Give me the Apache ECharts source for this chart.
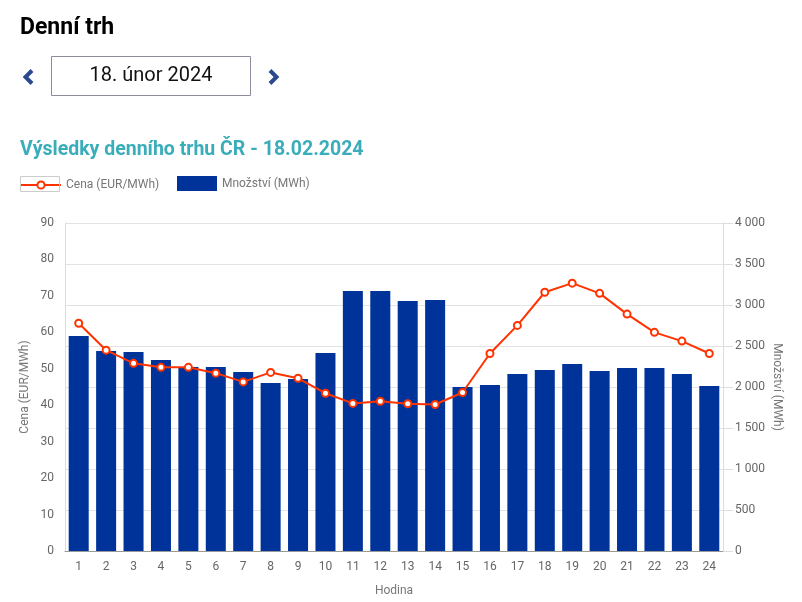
<!DOCTYPE html>
<html>
<head>
<meta charset="utf-8">
<script src="https://cdn.jsdelivr.net/npm/echarts@6/dist/echarts.min.js"></script>
<style>
html,body{margin:0;padding:0;background:#fff;}
#c{width:802px;height:602px;}
</style>
</head>
<body>
<div id="c"></div>
<script>
var hours = ['1','2','3','4','5','6','7','8','9','10','11','12','13','14','15','16','17','18','19','20','21','22','23','24'];
var price = [62.5,55.1,51.5,50.4,50.4,48.8,46.4,49.0,47.4,43.3,40.5,41.1,40.4,40.2,43.5,54.2,61.9,71.0,73.5,70.7,65.0,60.0,57.6,54.2];
var volume = [2622,2439,2427,2329,2244,2244,2183,2049,2098,2415,3171,3171,3049,3061,2000,2024,2159,2207,2280,2195,2232,2232,2159,2012];
var leftTicks = {min:0, max:90, interval:10};
var rightTicks = {min:0, max:4000, interval:500};

var FONT = 'Roboto, "Noto Sans", sans-serif';
var chart = echarts.init(document.getElementById('c'), null, {renderer:'canvas'});
function fmtThousands(v){ return String(v).replace(/\B(?=(\d{3})+(?!\d))/g, ' '); }

chart.setOption({
  animation:false,
  textStyle:{fontFamily:FONT},
  title:[
    {text:'Denní trh', left:15, top:12, textStyle:{fontFamily:FONT, fontSize:23, fontWeight:'bold', color:'#000'}},
    {text:'Výsledky denního trhu ČR - 18.02.2024', left:15, top:135, textStyle:{fontFamily:FONT, fontSize:19.5, fontWeight:'bold', color:'#3aadba'}}
  ],
  graphic:[
    {type:'rect', shape:{x:51.5, y:56.5, width:199, height:39}, style:{fill:'#fff', stroke:'#8c8c9c', lineWidth:1}},
    {type:'text', x:151, y:76, style:{text:'18. únor 2024', font:'20px '+FONT, fill:'#111', textAlign:'center', textVerticalAlign:'middle'}},
    {type:'polyline', shape:{points:[[32,70.5],[25.5,77],[32,83.5]]}, style:{stroke:'#2b4a8e', lineWidth:4, fill:null}},
    {type:'polyline', shape:{points:[[270,70.5],[276.5,77],[270,83.5]]}, style:{stroke:'#2b4a8e', lineWidth:4, fill:null}},
    {type:'rect', shape:{x:20.5, y:176.5, width:39, height:15}, style:{fill:null, stroke:'#cccccc', lineWidth:1}, z:100}
  ],
  legend:[
    {left:15, top:174, itemWidth:40, itemHeight:9, padding:5,
     textStyle:{fontFamily:FONT, fontSize:12, color:'#777'},
     data:[{name:'Cena (EUR/MWh)'}]},
    {left:172, top:171, itemWidth:40, itemHeight:15, padding:5,
     textStyle:{fontFamily:FONT, fontSize:12, color:'#777'},
     data:[{name:'Množství (MWh)', icon:'rect'}]}
  ],
  grid:{left:65, right:79, top:223, bottom:51, outerBoundsMode:'none', containLabel:false},
  xAxis:{
    type:'category', data:hours,
    name:'Hodina', nameLocation:'middle', nameGap:34, nameMoveOverlap:false,
    nameTextStyle:{fontFamily:FONT, fontSize:12, color:'#777'},
    axisLine:{lineStyle:{color:'#999'}},
    axisTick:{show:false},
    axisLabel:{color:'#666', fontSize:12, margin:10, fontFamily:FONT}
  },
  yAxis:[
    {type:'value', min:leftTicks.min, max:leftTicks.max, interval:leftTicks.interval,
     name:'Cena (EUR/MWh)', nameLocation:'middle', nameGap:34, nameMoveOverlap:false,
     nameTextStyle:{fontFamily:FONT, fontSize:12, color:'#777'},
     axisLine:{show:true, lineStyle:{color:'#ddd'}},
     axisTick:{show:false},
     splitLine:{show:false},
     axisLabel:{color:'#666', fontSize:12, margin:11, fontFamily:FONT}},
    {type:'value', min:rightTicks.min, max:rightTicks.max, interval:rightTicks.interval, position:'right',
     name:'Množství (MWh)', nameLocation:'middle', nameGap:48, nameRotate:-90, nameMoveOverlap:false,
     nameTextStyle:{fontFamily:FONT, fontSize:12, color:'#777'},
     axisLine:{show:true, lineStyle:{color:'#ddd'}},
     axisTick:{show:true, length:10, lineStyle:{color:'#ddd'}},
     splitLine:{show:true, lineStyle:{color:'#e3e3e3'}},
     axisLabel:{color:'#666', fontSize:12, margin:12, fontFamily:FONT, formatter:fmtThousands}}
  ],
  series:[
    {name:'Množství (MWh)', type:'bar', yAxisIndex:1, data:volume, barCategoryGap:'27%',
     itemStyle:{color:'#003399'}, z:2},
    {name:'Cena (EUR/MWh)', type:'line', yAxisIndex:0, data:price,
     symbol:'circle', symbolSize:7, showSymbol:true,
     lineStyle:{color:'#ff3300', width:2},
     itemStyle:{color:'#ffffff', borderColor:'#ff3300', borderWidth:2}, z:3}
  ]
});
</script>
</body>
</html>
